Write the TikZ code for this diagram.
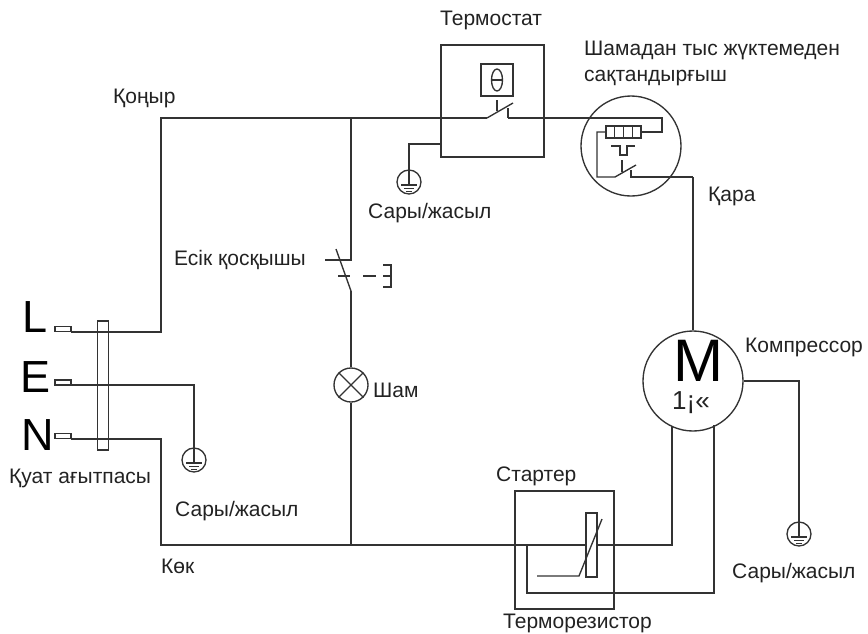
\documentclass[tikz,border=0pt]{standalone}
\usepackage{fontspec}
\setmainfont{Liberation Sans}
\tikzset{
  wire/.style={draw=wirecol,line width=1.35pt,line join=miter},
  thin box/.style={draw=wirecol,line width=1.35pt,rectangle,inner sep=0pt,fill=none},
  round box/.style={draw=wirecol,line width=1.35pt,circle,inner sep=0pt},
  lbl/.style={anchor=base west,inner sep=0pt,text=textcol,font=\fontsize{21}{23}\selectfont},
  bigl/.style={anchor=base,inner sep=0pt,text=black,font=\fontsize{45}{45}\selectfont},
}
\definecolor{wirecol}{HTML}{333333}
\definecolor{textcol}{HTML}{222222}
\newcommand{\gndsym}[3]{%
  \node[round box,minimum size=24pt] (#1) at (#2,#3) {};
  \coordinate (#1t) at (#2,#3-1);
  \draw[wire,line width=1.1pt] (#1t) -- ++(0,4);
  \draw[wire,line width=1.1pt] (#2-8,#3+3) -- (#2+8,#3+3);
  \draw[wire,line width=1.2pt] (#2-5,#3+6.5) -- (#2+5,#3+6.5);
  \draw[wire,line width=1.5pt] (#2-3,#3+9.5) -- (#2+3,#3+9.5);
}
\begin{document}
\begin{tikzpicture}[x=1pt,y=-1pt]
\useasboundingbox (0,0) rectangle (868,633);
% texts
\node[lbl] (t1) at (440,25) {Термостат};
\node[lbl] (t2) at (584,55) {Шамадан тыс жүктемеден};
\node[lbl] (t3) at (584,81) {сақтандырғыш};
\node[lbl] (t4) at (113,103) {Қоңыр};
\node[lbl] (t5) at (708,201) {Қара};
\node[lbl] (t6) at (368,218) {Сары/жасыл};
\node[lbl] (t7) at (174,265) {Есік қосқышы};
\node[lbl] (t8) at (373,397) {Шам};
\node[lbl] (t9) at (9,483) {Қуат ағытпасы};
\node[lbl] (t10) at (175,516) {Сары/жасыл};
\node[lbl] (t11) at (161,573) {Көк};
\node[lbl] (t12) at (496,481) {Стартер};
\node[lbl] (t13) at (503,628) {Терморезистор};
\node[lbl] (t14) at (745,352) {Компрессор};
\node[lbl] (t15) at (732,578) {Сары/жасыл};
\node[bigl] (L) at (35,332) {L};
\node[bigl] (E) at (36,392) {E};
\node[bigl] (N) at (38,450) {N};
% thermostat
\node[thin box,minimum width=103pt,minimum height=112pt] (thermo) at (492.5,101) {};
\node[thin box,minimum width=32pt,minimum height=32pt] (thbox) at (497,80) {};
\draw[wire] (497,80) ellipse (5.5 and 11);
\draw[wire] (491.5,80) -- (502.5,80);
\coordinate (thstub) at (497,100);
\coordinate (thstubb) at (497,111);
\draw[wire] (thstub) -- (thstubb);
\coordinate (thA) at (487,118);
\coordinate (thB) at (513,103);
\coordinate (thC) at (508,108);
\coordinate (thD) at (508,118);
\draw[wire] (thA) -- (thB);
\draw[wire] (thC) -- (thD);
% overload
\node[round box,minimum size=100pt] (ol) at (631,146) {};
\node[thin box,minimum width=35pt,minimum height=12pt] (heater) at (623.5,132) {};
\draw[wire] (614.7,126) -- (614.7,138) (623.5,126) -- (623.5,138) (632.2,126) -- (632.2,138);
\coordinate (olTR) at (662,118);
\coordinate (olR) at (662,132);
\coordinate (olL) at (597,132);
\coordinate (olLB) at (597,177);
\coordinate (olA) at (615,177);
\coordinate (olB) at (636,165);
\coordinate (olC) at (631,170);
\coordinate (olD) at (631,177);
\coordinate (olE) at (693,177);
\draw[wire] (thD) -- (olTR) -- (olR) -- (heater.east);
\draw[wire] (heater.west) -- (olL) -- (olLB) -- (olA) -- (olB);
\draw[wire] (olC) -- (olD) -- (olE);
\draw[wire] (622,160) -- (622,172);
\draw[wire] (611,146) -- (620,146) -- (620,155) -- (627,155) -- (627,146) -- (635,146);
% motor
\node[round box,minimum size=100pt] (motor) at (693,381) {};
\node[anchor=base,inner sep=0pt,text=black,font=\fontsize{60}{60}\selectfont] (mM) at (698,381) {M};
\node[anchor=base,inner sep=0pt,text=textcol,font=\fontsize{26}{26}\selectfont] (m1) at (691,409) {1¡«};
\draw[wire] (olE) -- (motor.north);
% grounds
\gndsym{g1}{194}{460}
\gndsym{g2}{409}{182}
\gndsym{g3}{799}{534}
\coordinate (mgA) at (799,381);
\draw[wire] (motor.east) -- (mgA) -- (g3t);
\coordinate (tgA) at (441,144);
\coordinate (tgB) at (409,144);
\draw[wire] (tgA) -- (tgB) -- (g2t);
% plug
\node[thin box,minimum width=16pt,minimum height=5pt] (pL) at (63,329) {};
\node[thin box,minimum width=16pt,minimum height=5pt] (pE) at (63,382.5) {};
\node[thin box,minimum width=16pt,minimum height=5pt] (pN) at (63,436) {};
\coordinate (Lout) at (71,332);
\coordinate (Lup) at (161,332);
\coordinate (Ltop) at (161,118);
\coordinate (mid) at (351,118);
\coordinate (Eout) at (71,385);
\coordinate (Ert) at (194,385);
\coordinate (Nout) at (71,439);
\coordinate (Nrt) at (161,439);
\coordinate (Nbot) at (161,545);
\coordinate (jl) at (351,545);
\coordinate (sR) at (672,545);
\coordinate (mL) at (672,426);
\draw[wire] (Lout) -- (Lup) -- (Ltop) -- (thA);
\draw[wire] (Eout) -- (Ert) -- (g1t);
\draw[wire] (Nout) -- (Nrt) -- (Nbot) -- (sR) -- (mL);
\node[thin box,minimum width=11pt,minimum height=129pt] (plug) at (103,385.5) {};
% door switch
\coordinate (dA) at (351,260);
\coordinate (dB) at (325,260);
\coordinate (dC) at (336,249);
\coordinate (dD) at (351,291);
\draw[wire] (mid) -- (dA) -- (dB);
\draw[wire] (dC) -- (dD);
\draw[wire] (338,276) -- (350,276);
\draw[wire] (363,276) -- (376,276);
\draw[wire] (383,265) -- (391,265) -- (391,287) -- (383,287) (383,276) -- (391,276);
% lamp
\node[round box,minimum size=34pt] (lamp) at (351,385) {};
\draw[wire] (lamp.north west) -- (lamp.south east) (lamp.north east) -- (lamp.south west);
\draw[wire] (dD) -- (lamp.north);
\draw[wire] (lamp.south) -- (jl);
% starter
\node[thin box,minimum width=99pt,minimum height=118pt] (starter) at (564.5,550) {};
\node[thin box,minimum width=11pt,minimum height=64pt,fill=white] (ptc) at (591.5,545) {};
\coordinate (sA) at (527,545);
\coordinate (sB) at (527,593);
\coordinate (sC) at (714,593);
\coordinate (sD) at (714,425);
\draw[wire] (sA) -- (sB) -- (sC) -- (sD);
\coordinate (pA) at (537,576);
\coordinate (pB) at (579,576);
\coordinate (pC) at (602,519);
\draw[wire] (pA) -- (pB) -- (pC);
\end{tikzpicture}
\end{document}
